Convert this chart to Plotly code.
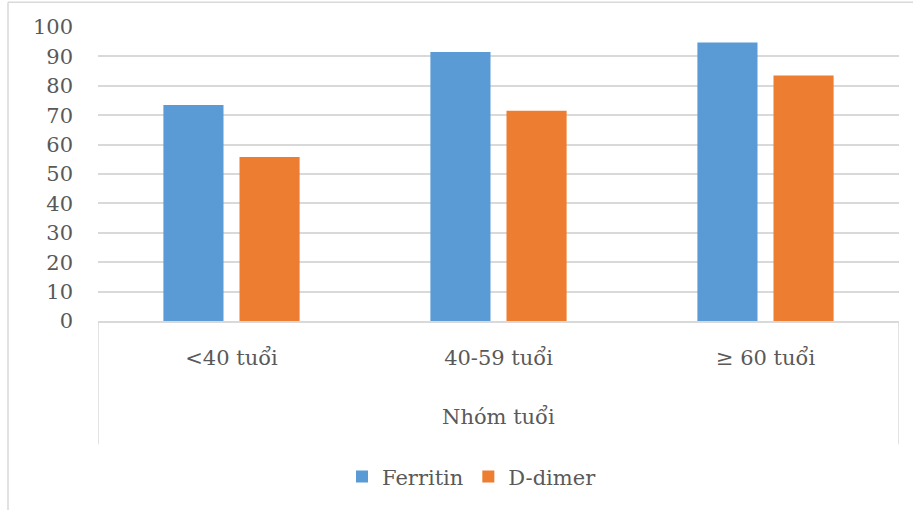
import plotly.graph_objects as go

# Age groups and percentage of patients with elevated markers
categories = ["<40 tuổi", "40-59 tuổi", "≥ 60 tuổi"]
ferritin = [73.5, 91.5, 94.7]
d_dimer = [55.8, 71.5, 83.5]
series_names = ["Ferritin", "D-dimer"]
y_ticks = [0, 10, 20, 30, 40, 50, 60, 70, 80, 90, 100]

BLUE = "#5B9BD5"
ORANGE = "#ED7D31"
TEXT = "#595959"
GRID = "#D9D9D9"
FONT = "DejaVu Serif"

fig = go.Figure()
fig.add_trace(go.Bar(x=categories, y=ferritin, name=series_names[0],
                     marker=dict(color=BLUE, line=dict(width=0))))
fig.add_trace(go.Bar(x=categories, y=d_dimer, name=series_names[1],
                     marker=dict(color=ORANGE, line=dict(width=0))))

W, H = 913, 510
left, right, top, bottom = 98, 14, 27, 187
plot_h = H - top - bottom
plot_w = W - left - right

def py(px):
    """Pixel row to paper y."""
    return (H - bottom - px) / plot_h

def px_x(px):
    return (px - left) / plot_w

fig.update_layout(
    width=W, height=H,
    margin=dict(l=left, r=right, t=top, b=bottom, pad=0),
    paper_bgcolor="white", plot_bgcolor="white",
    barmode="group", bargap=0.43, bargroupgap=0.21,
    font=dict(family=FONT, size=21, color=TEXT),
    showlegend=True,
    legend=dict(orientation="h", x=px_x(472), xanchor="center",
                y=py(480), yanchor="middle",
                font=dict(family=FONT, size=21, color=TEXT),
                itemwidth=30, traceorder="normal"),
    xaxis=dict(showgrid=False, showline=True, linecolor=GRID, linewidth=1.5,
               ticks="", tickfont=dict(family=FONT, size=21, color=TEXT),
               ticklabelstandoff=17, range=[-0.5, 2.5], fixedrange=True),
    yaxis=dict(range=[0, 100], tickvals=y_ticks, showgrid=True,
               gridcolor=GRID, gridwidth=1.5, zeroline=False, showline=False,
               ticks="", tickfont=dict(family=FONT, size=21, color=TEXT),
               ticklabelstandoff=24, fixedrange=True),
    annotations=[dict(text="Nhóm tuổi", xref="paper", yref="paper",
                      x=0.5, y=py(420), xanchor="center", yanchor="middle",
                      showarrow=False,
                      font=dict(family=FONT, size=21, color=TEXT))],
    shapes=[
        # category axis box sides
        dict(type="line", xref="x", yref="paper", x0=-0.5, x1=-0.5,
             y0=0, y1=py(447), line=dict(color=GRID, width=1.5)),
        dict(type="line", xref="x", yref="paper", x0=2.5, x1=2.5,
             y0=0, y1=py(447), line=dict(color=GRID, width=1.5)),
        # chart area border
        dict(type="line", xref="paper", yref="paper", x0=px_x(8), x1=px_x(930),
             y0=py(2), y1=py(2), line=dict(color=GRID, width=1.5)),
        dict(type="line", xref="paper", yref="paper", x0=px_x(8), x1=px_x(8),
             y0=py(2), y1=py(530), line=dict(color=GRID, width=1.5)),
    ],
)

fig.write_html("out.html")
